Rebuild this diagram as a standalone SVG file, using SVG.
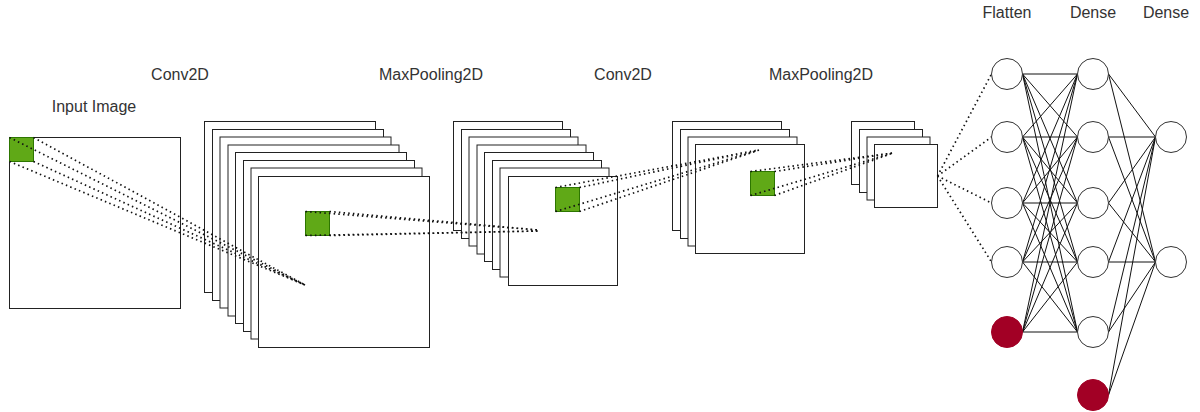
<svg xmlns="http://www.w3.org/2000/svg" width="1200" height="412" viewBox="0 0 1200 412">
  <style>
    .lbl { font-family: "Liberation Sans", Arial, sans-serif; font-size: 16px; fill: #333; text-anchor: middle; }
    .map { fill: #fff; stroke: #222; stroke-width: 1; }
    .kern { fill: #60a917; stroke: #2d7600; stroke-width: 1; }
    .dot { fill: none; stroke: #111; stroke-width: 1.7; stroke-dasharray: 1.5 3.2; }
    .wire { fill: none; stroke: #111; stroke-width: 1; }
    .unit { fill: #fff; stroke: #333; stroke-width: 1; }
    .bias { fill: #a20025; stroke: #a20025; stroke-width: 1; }
  </style>
  <rect width="1200" height="412" fill="#fff"/>

  <!-- layer captions -->
  <g id="labels">
    <text class="lbl" x="94" y="112">Input Image</text>
    <text class="lbl" x="180" y="80">Conv2D</text>
    <text class="lbl" x="431" y="80">MaxPooling2D</text>
    <text class="lbl" x="623" y="80">Conv2D</text>
    <text class="lbl" x="821" y="80">MaxPooling2D</text>
    <text class="lbl" x="1007" y="18">Flatten</text>
    <text class="lbl" x="1093" y="18">Dense</text>
    <text class="lbl" x="1166" y="18">Dense</text>
  </g>

  <!-- input image with its receptive field -->
  <g id="input-image">
    <rect class="map" x="9.5" y="137.5" width="171" height="171"/>
    <rect class="kern" x="9.5" y="137.5" width="24" height="24"/>
  </g>

  <!-- first convolution: 8 feature maps -->
  <g id="conv2d-1">
    <rect class="map" x="204.5" y="121.5" width="171" height="171"/>
    <rect class="map" x="212.5" y="129.5" width="171" height="171"/>
    <rect class="map" x="220" y="137" width="171" height="171"/>
    <rect class="map" x="228" y="145" width="171" height="171"/>
    <rect class="map" x="235.5" y="152.5" width="171" height="171"/>
    <rect class="map" x="243.5" y="160.5" width="171" height="171"/>
    <rect class="map" x="251" y="168" width="171" height="171"/>
    <rect class="map" x="258.5" y="176.5" width="171" height="171"/>
    <rect class="kern" x="305.5" y="211.5" width="24" height="24"/>
  </g>

  <!-- first pooling: 8 maps -->
  <g id="maxpool-1">
    <rect class="map" x="453.5" y="121.5" width="109" height="109"/>
    <rect class="map" x="461.5" y="129.5" width="109" height="109"/>
    <rect class="map" x="469" y="137" width="109" height="109"/>
    <rect class="map" x="477" y="145" width="109" height="109"/>
    <rect class="map" x="484.5" y="152.5" width="109" height="109"/>
    <rect class="map" x="492.5" y="160.5" width="109" height="109"/>
    <rect class="map" x="500" y="168" width="109" height="109"/>
    <rect class="map" x="508.5" y="176.5" width="109" height="109"/>
    <rect class="kern" x="555.5" y="187.5" width="24" height="24"/>
  </g>

  <!-- second convolution: 4 maps -->
  <g id="conv2d-2">
    <rect class="map" x="672.5" y="121.5" width="109" height="109"/>
    <rect class="map" x="680.5" y="129.5" width="109" height="109"/>
    <rect class="map" x="688" y="137" width="109" height="109"/>
    <rect class="map" x="695.5" y="144.5" width="109" height="109"/>
    <rect class="kern" x="750.5" y="171.5" width="24" height="24"/>
  </g>

  <!-- second pooling: 4 maps -->
  <g id="maxpool-2">
    <rect class="map" x="851.5" y="121.5" width="63" height="63"/>
    <rect class="map" x="859.5" y="129.5" width="63" height="63"/>
    <rect class="map" x="867" y="137" width="63" height="63"/>
    <rect class="map" x="874.5" y="144.5" width="63" height="63"/>
  </g>

  <!-- projections and fully connected wiring -->
  <g id="connectors">
    <!-- input field -> conv map point -->
    <path class="dot" d="M9.5 137.5 L305 285 M33.5 137.5 L305 285 M9.5 161.5 L305 285 M33.5 161.5 L305 285"/>
    <!-- conv field -> pooled point -->
    <path class="dot" d="M305.5 211.5 L538 230 M305.5 235.5 L538 231 M329.5 211.5 L538 230 M329.5 235.5 L538 231"/>
    <!-- pooled field -> conv map point -->
    <path class="dot" d="M555.5 187.5 L759 150 M579.5 187.5 L759 150 M555.5 211.5 L759 150 M579.5 211.5 L759 150"/>
    <!-- conv field -> pooled point -->
    <path class="dot" d="M750.5 171.5 L893 153 M774.5 171.5 L893 153 M750.5 195.5 L893 153 M774.5 195.5 L893 153"/>
    <!-- pooled maps -> flatten units -->
    <path class="dot" d="M937.5 176 L991.5 74 M937.5 176 L991.5 137 M937.5 176 L991.5 203 M937.5 176 L991.5 262"/>

    <!-- flatten (incl. bias) -> dense -->
    <path class="wire" d="
      M1022.5 74 L1077.5 74 M1022.5 74 L1077.5 137 M1022.5 74 L1077.5 203 M1022.5 74 L1077.5 262 M1022.5 74 L1077.5 332
      M1022.5 137 L1077.5 74 M1022.5 137 L1077.5 137 M1022.5 137 L1077.5 203 M1022.5 137 L1077.5 262 M1022.5 137 L1077.5 332
      M1022.5 203 L1077.5 74 M1022.5 203 L1077.5 137 M1022.5 203 L1077.5 203 M1022.5 203 L1077.5 262 M1022.5 203 L1077.5 332
      M1022.5 262 L1077.5 74 M1022.5 262 L1077.5 137 M1022.5 262 L1077.5 203 M1022.5 262 L1077.5 262 M1022.5 262 L1077.5 332
      M1022.5 332 L1077.5 74 M1022.5 332 L1077.5 137 M1022.5 332 L1077.5 203 M1022.5 332 L1077.5 262 M1022.5 332 L1077.5 332"/>

    <!-- dense (incl. bias) -> output -->
    <path class="wire" d="
      M1108.5 74 L1155.5 137 M1108.5 74 L1155.5 262
      M1108.5 137 L1155.5 137 M1108.5 137 L1155.5 262
      M1108.5 203 L1155.5 137 M1108.5 203 L1155.5 262
      M1108.5 262 L1155.5 137 M1108.5 262 L1155.5 262
      M1108.5 332 L1155.5 137 M1108.5 332 L1155.5 262
      M1108.5 395 L1155.5 137 M1108.5 395 L1155.5 262"/>
  </g>

  <!-- flatten layer -->
  <g id="flatten">
    <circle class="unit" cx="1007" cy="74" r="15.5"/>
    <circle class="unit" cx="1007" cy="137" r="15.5"/>
    <circle class="unit" cx="1007" cy="203" r="15.5"/>
    <circle class="unit" cx="1007" cy="262" r="15.5"/>
    <circle class="bias" cx="1007" cy="332" r="15.5"/>
  </g>

  <!-- hidden dense layer -->
  <g id="dense-1">
    <circle class="unit" cx="1093" cy="74" r="15.5"/>
    <circle class="unit" cx="1093" cy="137" r="15.5"/>
    <circle class="unit" cx="1093" cy="203" r="15.5"/>
    <circle class="unit" cx="1093" cy="262" r="15.5"/>
    <circle class="unit" cx="1093" cy="332" r="15.5"/>
    <circle class="bias" cx="1093" cy="395" r="15.5"/>
  </g>

  <!-- output dense layer -->
  <g id="dense-2">
    <circle class="unit" cx="1171" cy="137" r="15.5"/>
    <circle class="unit" cx="1171" cy="262" r="15.5"/>
  </g>
</svg>
